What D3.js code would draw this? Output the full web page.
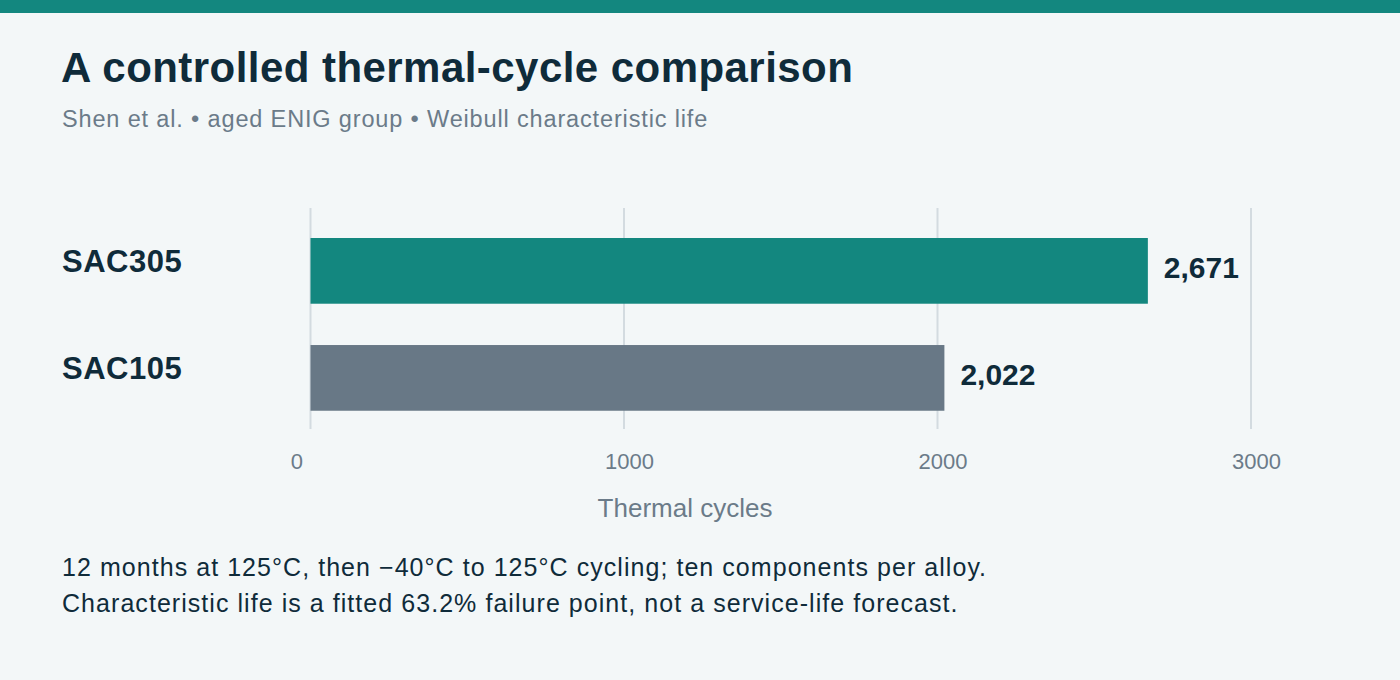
<!DOCTYPE html>
<html>
<head>
<meta charset="utf-8">
<script src="https://cdn.jsdelivr.net/npm/d3@7"></script>
<style>
  html, body { margin: 0; padding: 0; background: #f3f7f8; }
  body { font-family: "Liberation Sans", Arial, Helvetica, sans-serif; }
</style>
</head>
<body>
<script>
// data
const alloys = ["SAC305", "SAC105"];
const lifeCycles = [2671, 2022];
const barColors = ["#13877f", "#687886"];
const xTicks = [0, 1000, 2000, 3000];
const notes = [
    "12 months at 125°C, then \u221240°C to 125°C cycling; ten components per alloy.",
    "Characteristic life is a fitted 63.2% failure point, not a service-life forecast."
];

const width = 1400;
const height = 680;
const dark = "#0f2b3a";
const muted = "#6b7b89";

const svg = d3.select("body").append("svg")
    .attr("width", width)
    .attr("height", height)
    .style("display", "block");

svg.append("rect").attr("width", width).attr("height", height).attr("fill", "#f3f7f8");
svg.append("rect").attr("width", width).attr("height", 13).attr("fill", "#13877f");

svg.append("text")
    .attr("x", 61).attr("y", 82)
    .attr("fill", dark)
    .style("font-size", "42px").style("font-weight", "bold")
    .style("letter-spacing", "0.45px")
    .text("A controlled thermal-cycle comparison");

svg.append("text")
    .attr("x", 62).attr("y", 126.5)
    .attr("fill", muted)
    .style("font-size", "23.5px")
    .style("letter-spacing", "0.85px")
    .text("Shen et al. \u2022 aged ENIG group \u2022 Weibull characteristic life");

const xScale = d3.scaleLinear()
    .domain([0, 3000])
    .range([310.5, 1251]);

const yScale = d3.scaleBand()
    .domain(alloys)
    .range([211.25, 437.5])
    .paddingInner(0.386)
    .paddingOuter(0.25);

// gridlines
svg.append("g")
    .selectAll("line")
    .data(xTicks)
    .enter()
    .append("line")
    .attr("x1", d => xScale(d))
    .attr("x2", d => xScale(d))
    .attr("y1", 208)
    .attr("y2", 429)
    .attr("stroke", "#d3dbe0")
    .attr("stroke-width", 2);

// x axis labels
const xAxis = d3.axisBottom(xScale)
    .tickValues(xTicks)
    .tickFormat(d => d)
    .tickSize(0)
    .tickPadding(0);

const xg = svg.append("g")
    .attr("transform", "translate(0, 450)")
    .call(xAxis);
xg.select(".domain").remove();
xg.selectAll("text")
    .attr("fill", muted)
    .style("font-size", "22px")
    .style("font-family", "'Liberation Sans', Arial, sans-serif")
    .attr("dy", "0.85em")
    .attr("dx", 5)
    .filter(d => d === 0)
    .attr("text-anchor", "end")
    .attr("dx", -8);

svg.append("text")
    .attr("x", 685).attr("y", 517)
    .attr("text-anchor", "middle")
    .attr("fill", muted)
    .style("font-size", "26px")
    .text("Thermal cycles");

// bars
svg.selectAll("rect.bar")
    .data(alloys)
    .enter()
    .append("rect")
    .attr("class", "bar")
    .attr("x", xScale(0))
    .attr("y", d => yScale(d))
    .attr("width", (d, i) => xScale(lifeCycles[i]) - xScale(0))
    .attr("height", yScale.bandwidth())
    .attr("fill", (d, i) => barColors[i]);

// category labels
svg.selectAll("text.cat")
    .data(alloys)
    .enter()
    .append("text")
    .attr("class", "cat")
    .attr("x", 62)
    .attr("y", d => yScale(d) + yScale.bandwidth() / 2 + 1)
    .attr("fill", dark)
    .style("font-size", "31px").style("font-weight", "bold")
    .style("letter-spacing", "0.5px")
    .text(d => d);

// value labels
svg.selectAll("text.val")
    .data(alloys)
    .enter()
    .append("text")
    .attr("class", "val")
    .attr("x", (d, i) => xScale(lifeCycles[i]) + 16)
    .attr("y", d => yScale(d) + yScale.bandwidth() / 2 + 7)
    .attr("fill", dark)
    .style("font-size", "30px").style("font-weight", "bold")
    .text((d, i) => d3.format(",")(lifeCycles[i]));

// footnote
svg.selectAll("text.note")
    .data(notes)
    .enter()
    .append("text")
    .attr("class", "note")
    .attr("x", 62)
    .attr("y", (d, i) => 576 + i * 36)
    .attr("fill", dark)
    .style("font-size", "25px")
    .style("letter-spacing", "1.05px")
    .text(d => d);
</script>
</body>
</html>
